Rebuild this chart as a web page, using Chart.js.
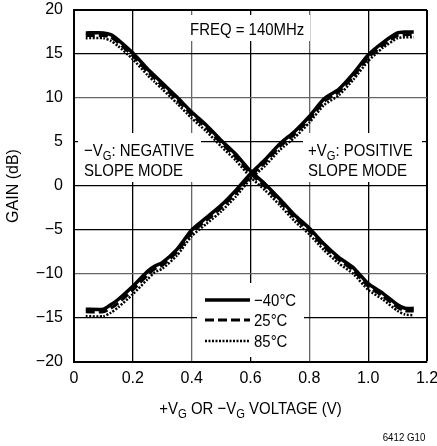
<!DOCTYPE html>
<html>
<head>
<meta charset="utf-8">
<script src="https://cdn.jsdelivr.net/npm/chart.js@4"></script>
<style>
  html, body { margin: 0; padding: 0; background: #fff; overflow: hidden; }
  #wrap { width: 437px; height: 446px; position: relative; }
</style>
</head>
<body>
<div id="wrap"><canvas id="gainChart"></canvas></div>
<script>
// Gain vs control voltage, FREQ = 140MHz
const xVals = [0.04, 0.10, 0.125, 0.15, 0.20, 0.25, 0.275, 0.30, 0.35, 0.40, 0.45, 0.50, 0.55,
               0.60, 0.65, 0.70, 0.75, 0.80, 0.85, 0.90, 0.95, 1.00, 1.05, 1.10, 1.125, 1.155];

// positive slope mode (+VG)
const posM40 = [-14.0, -14.0, -13.5, -12.9, -11.4, -9.7, -9.1, -8.7, -7.2, -5.0, -3.6, -2.2, -0.5,
                1.4, 3.0, 4.8, 6.2, 7.9, 9.9, 11.0, 12.8, 14.9, 16.3, 17.4, 17.5, 17.5];
const pos25 = [-14.3, -14.3, -13.9, -13.3, -11.8, -10.1, -9.4, -9.0, -7.5, -5.3, -3.9, -2.5, -0.8,
               1.1, 2.7, 4.5, 5.9, 7.6, 9.6, 10.7, 12.5, 14.6, 16.0, 17.1, 17.2, 17.2];
const pos85 = [-14.8, -14.8, -14.4, -13.8, -12.3, -10.6, -9.8, -9.4, -7.9, -5.7, -4.3, -2.9, -1.2,
               0.8, 2.3, 4.1, 5.5, 7.2, 9.2, 10.3, 12.1, 14.2, 15.7, 16.8, 16.9, 16.9];

// negative slope mode (-VG)
const negM40 = [17.4, 17.4, 17.2, 16.6, 15.1, 13.3, 12.5, 11.7, 10.1, 8.4, 6.9, 5.2, 3.6,
                1.7, 0.2, -1.5, -3.3, -4.8, -6.6, -8.1, -9.3, -11.1, -12.2, -13.5, -13.9, -13.9];
const neg25 = [17.1, 17.1, 16.9, 16.3, 14.8, 13.0, 12.2, 11.4, 9.8, 8.1, 6.6, 4.9, 3.3,
               1.4, -0.1, -1.8, -3.6, -5.1, -6.9, -8.4, -9.6, -11.4, -12.5, -13.8, -14.2, -14.2];
const neg85 = [16.8, 16.8, 16.5, 15.9, 14.4, 12.6, 11.8, 11.0, 9.4, 7.7, 6.2, 4.5, 2.9,
               1.0, -0.5, -2.2, -4.0, -5.5, -7.3, -8.8, -10.0, -11.8, -12.9, -14.2, -14.6, -14.7];

const xTicks = [0, 0.2, 0.4, 0.6, 0.8, 1.0, 1.2];
const yTicks = [-20, -15, -10, -5, 0, 5, 10, 15, 20];
const legendLabels = ['\u221240\u00b0C', '25\u00b0C', '85\u00b0C'];

const FONT = '"Liberation Sans", Arial, sans-serif';
const SQUEEZE = 0.88; // the original lettering is a condensed face

function toPoints(ys) {
    return xVals.map((x, i) => ({ x: x, y: ys[i] }));
}

const styles = [
    { borderWidth: 3.5, borderDash: [] },
    { borderWidth: 3, borderDash: [9, 4] },
    { borderWidth: 2.5, borderDash: [2, 1.5] }
];

function makeSet(label, ys, s) {
    return {
        label: label,
        data: toPoints(ys),
        borderColor: '#000',
        backgroundColor: '#000',
        borderWidth: styles[s].borderWidth,
        borderDash: styles[s].borderDash,
        pointRadius: 0,
        tension: 0.2,
        fill: false
    };
}

// draw condensed text with "G" subscripts, parts = [[text, isSub], ...]
function drawParts(ctx, parts, x, y, size, align) {
    ctx.save();
    let total = 0;
    parts.forEach(p => {
        ctx.font = (p[1] ? size * 0.75 : size) + 'px ' + FONT;
        total += ctx.measureText(p[0]).width * SQUEEZE;
    });
    let cx = align === 'center' ? x - total / 2 : x;
    ctx.textAlign = 'left';
    ctx.textBaseline = 'alphabetic';
    ctx.translate(cx, y);
    ctx.scale(SQUEEZE, 1);
    let off = 0;
    parts.forEach(p => {
        ctx.font = (p[1] ? size * 0.75 : size) + 'px ' + FONT;
        ctx.fillText(p[0], off, p[1] ? size * 0.22 : 0);
        off += ctx.measureText(p[0]).width;
    });
    ctx.restore();
}

const decorPlugin = {
    id: 'decor',
    beforeDatasetsDraw(chart) {
        const ctx = chart.ctx;
        ctx.save();
        // white boxes behind the texts cut the grid
        ctx.fillStyle = '#fff';
        ctx.fillRect(186, 15, 124, 26);
        ctx.fillRect(78, 133, 123, 49);
        ctx.fillRect(303, 133, 119, 49);
        ctx.fillRect(197, 283, 107, 74);

        ctx.fillStyle = '#000';
        drawParts(ctx, [['FREQ = 140MHz', false]], 190, 35, 17, 'left');
        drawParts(ctx, [['\u2212V', false], ['G', true], [': NEGATIVE', false]], 84, 156, 17, 'left');
        drawParts(ctx, [['SLOPE MODE', false]], 84, 176, 17, 'left');
        drawParts(ctx, [['+V', false], ['G', true], [': POSITIVE', false]], 308, 156, 17, 'left');
        drawParts(ctx, [['SLOPE MODE', false]], 308, 176, 17, 'left');

        // legend
        const ly = [300, 320, 341];
        legendLabels.forEach((t, i) => {
            ctx.strokeStyle = '#000';
            ctx.lineWidth = styles[i].borderWidth;
            ctx.setLineDash(styles[i].borderDash);
            ctx.beginPath();
            ctx.moveTo(205, ly[i]);
            ctx.lineTo(250, ly[i]);
            ctx.stroke();
            ctx.setLineDash([]);
            drawParts(ctx, [[t, false]], 254, ly[i] + 6, 17, 'left');
        });
        ctx.restore();
    },
    afterDraw(chart) {
        const ctx = chart.ctx;
        const area = chart.chartArea;
        ctx.save();
        ctx.fillStyle = '#000';
        // x axis title
        drawParts(ctx, [['+V', false], ['G', true], [' OR \u2212V', false], ['G', true], [' VOLTAGE (V)', false]],
            (area.left + area.right) / 2, 414, 17, 'center');
        // y axis title
        ctx.translate(14, (area.top + area.bottom) / 2);
        ctx.rotate(-Math.PI / 2);
        ctx.font = '16px ' + FONT;
        ctx.textAlign = 'center';
        ctx.textBaseline = 'middle';
        ctx.fillText('GAIN (dB)', 0, 0);
        ctx.restore();

        ctx.save();
        ctx.fillStyle = '#000';
        drawParts(ctx, [['6412 G10', false]], 404, 441, 11, 'center');
        ctx.restore();
    }
};

function gridColor(c, greyVals) {
    const v = c.tick ? c.tick.value : null;
    if (v !== null && greyVals.some(g => Math.abs(g - v) < 1e-6)) return '#666';
    return '#000';
}

const chart = new Chart(document.getElementById('gainChart'), {
    type: 'line',
    data: {
        datasets: [
            makeSet('+VG -40', posM40, 0),
            makeSet('-VG -40', negM40, 0),
            makeSet('+VG 25', pos25, 1),
            makeSet('-VG 25', neg25, 1),
            makeSet('+VG 85', pos85, 2),
            makeSet('-VG 85', neg85, 2)
        ]
    },
    options: {
        responsive: true,
        maintainAspectRatio: false,
        animation: false,
        layout: { padding: { left: 0, right: 10, top: 10, bottom: 0 } },
        plugins: {
            legend: { display: false },
            tooltip: { enabled: false }
        },
        scales: {
            x: {
                type: 'linear',
                min: 0,
                max: 1.2,
                afterBuildTicks: axis => { axis.ticks = xTicks.map(v => ({ value: v })); },
                afterFit: axis => {
                    axis.height = 84;
                    axis.paddingLeft = 0;
                    axis.paddingRight = 0;
                },
                grid: {
                    color: c => gridColor(c, [0.4, 0.8]),
                    lineWidth: c => (c.tick && (c.tick.value === 1.2)) ? 2 : 1.3,
                    drawTicks: false
                },
                border: { display: true, color: '#000', width: 2 },
                ticks: {
                    padding: 7,
                    color: '#000',
                    font: { family: FONT, size: 16 },
                    maxRotation: 0,
                    callback: v => v === 0 ? '0' : v.toFixed(1)
                }
            },
            y: {
                type: 'linear',
                min: -20,
                max: 20,
                afterBuildTicks: axis => { axis.ticks = yTicks.map(v => ({ value: v })); },
                afterFit: axis => {
                    axis.width = 74;
                    axis.paddingTop = 0;
                    axis.paddingBottom = 0;
                },
                grid: {
                    color: c => gridColor(c, [10, -10]),
                    lineWidth: c => (c.tick && (c.tick.value === 20)) ? 2 : 1.3,
                    drawTicks: false
                },
                border: { display: true, color: '#000', width: 2 },
                ticks: {
                    padding: 11,
                    color: '#000',
                    font: { family: FONT, size: 16 },
                    callback: v => v < 0 ? '\u2212' + Math.abs(v) : String(v)
                }
            }
        }
    },
    plugins: [decorPlugin]
});
</script>
</body>
</html>
